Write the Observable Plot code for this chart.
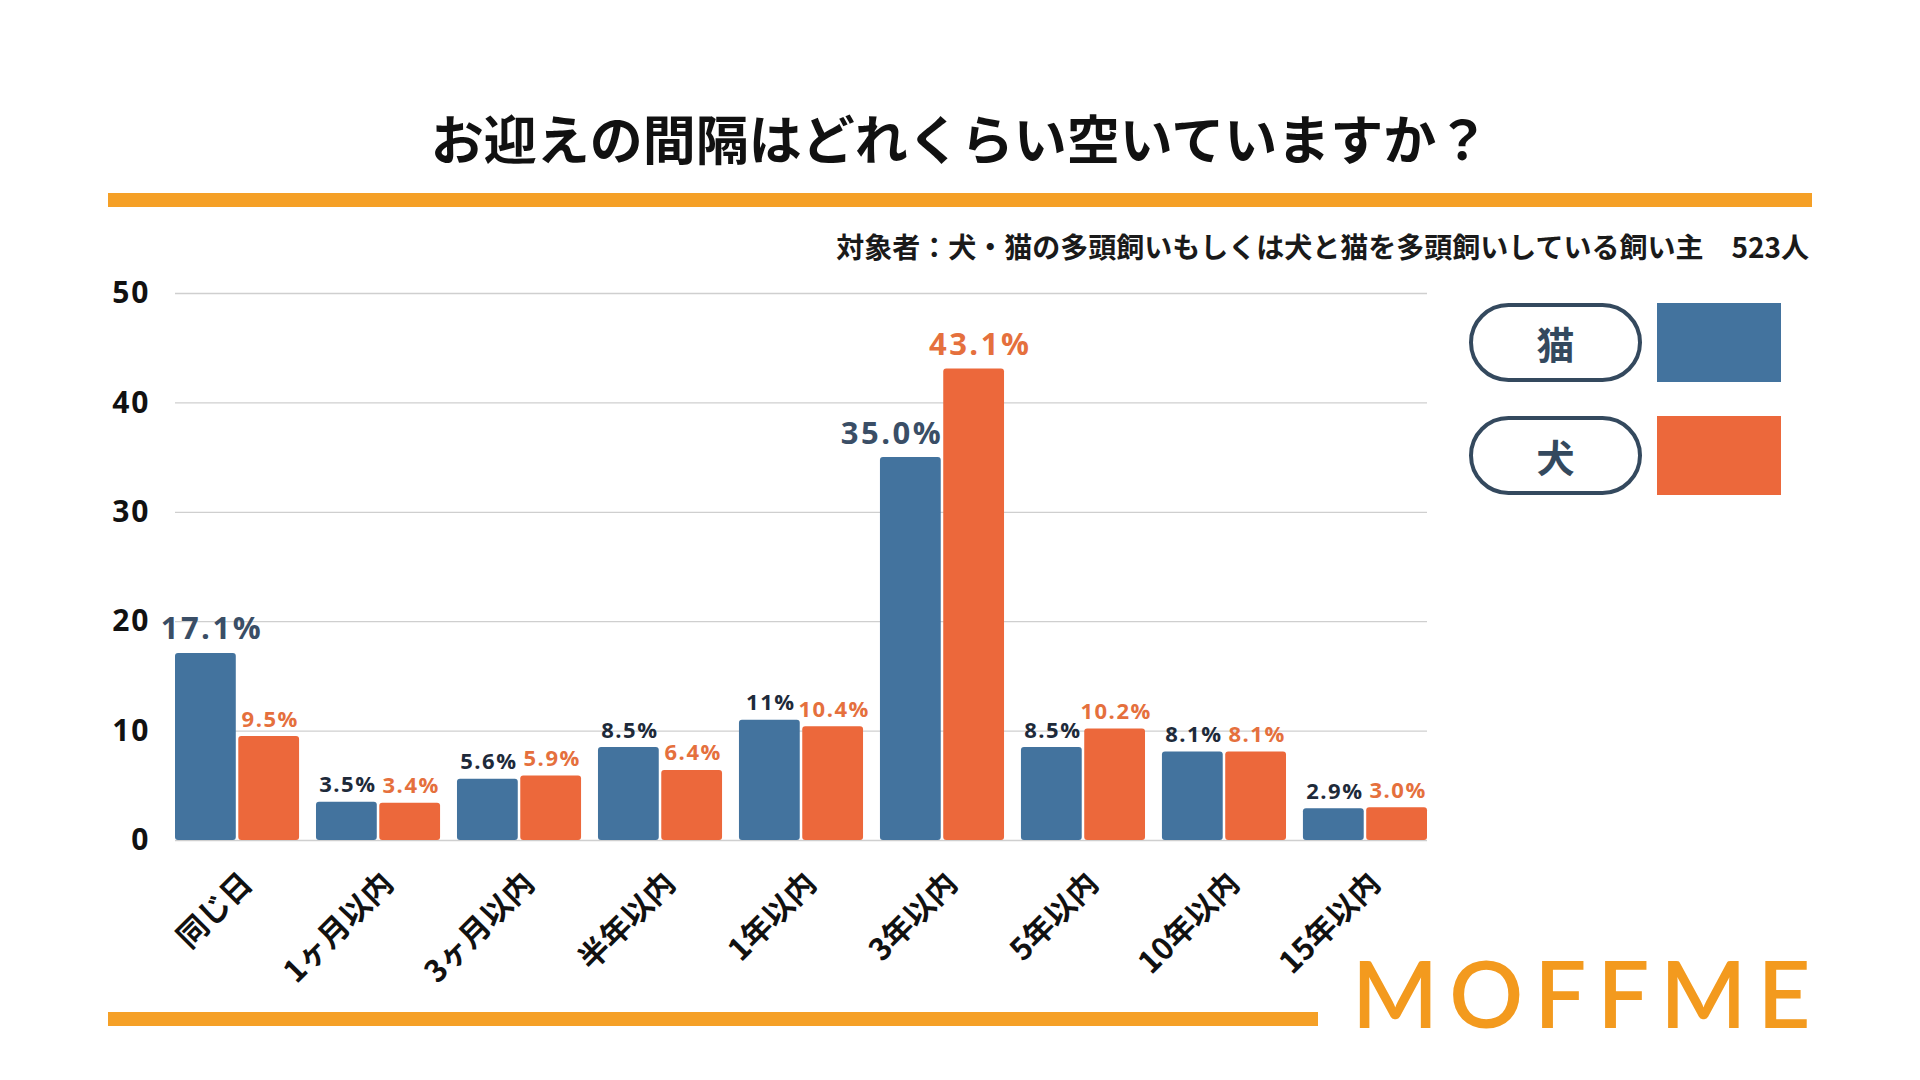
<!DOCTYPE html>
<html lang="ja">
<head>
<meta charset="utf-8">
<script src="https://cdn.jsdelivr.net/npm/d3@7"></script>
<script src="https://cdn.jsdelivr.net/npm/@observablehq/plot@0.6"></script>
<style>
  html, body { margin: 0; padding: 0; background: #ffffff; }
  #page { position: relative; width: 1920px; height: 1080px; background: #ffffff; overflow: hidden;
          font-family: "Noto Sans CJK JP", "Noto Sans", sans-serif; }
  .abs { position: absolute; }
  #title { left: 0; width: 1920px; top: 110px; height: 54px; display: flex; align-items: center; justify-content: center;
           font-size: 53px; font-weight: 700; color: #111111; line-height: 1; }
  .bar { background: #f5a027; height: 14px; }
  #subtitle { right: 111px; top: 232px; height: 28px; line-height: 28px; font-size: 28px; font-weight: 700; color: #1a1a1a; white-space: pre; }
  .pill { box-sizing: border-box; border: 4px solid #34495e; border-radius: 40px; width: 173px; height: 79px;
          display: flex; align-items: center; justify-content: center; font-size: 38px; font-weight: 700; color: #34495e; }
  .swatch { width: 124px; height: 79px; }
  #chart { left: 0; top: 250px; }
  #logo { left: 1352px; top: 938px; width: 520px; height: 110px; line-height: 110px; white-space: nowrap;
          font-family: Lato, "Open Sans", sans-serif; font-weight: 600; font-size: 92px; color: #f39a1e; letter-spacing: 11px; }
</style>
</head>
<body>
<div id="page">
  <div id="title" class="abs"></div>
  <div class="abs bar" style="left:108px; top:193px; width:1704px;"></div>
  <div id="subtitle" class="abs"></div>
  <div id="legend"></div>
  <div id="chart" class="abs"></div>
  <div class="abs bar" style="left:108px; top:1012px; width:1210px;"></div>
  <div id="logo" class="abs">MOFFME</div>
</div>
<script>
const titleText = "お迎えの間隔はどれくらい空いていますか？";
const subtitleText = "対象者：犬・猫の多頭飼いもしくは犬と猫を多頭飼いしている飼い主　523人";
const categories = ["同じ日", "1ヶ月以内", "3ヶ月以内", "半年以内", "1年以内", "3年以内", "5年以内", "10年以内", "15年以内"];
const catValues = [17.1, 3.5, 5.6, 8.5, 11, 35.0, 8.5, 8.1, 2.9];
const dogValues = [9.5, 3.4, 5.9, 6.4, 10.4, 43.1, 10.2, 8.1, 3.0];
const catLabels = ["17.1%", "3.5%", "5.6%", "8.5%", "11%", "35.0%", "8.5%", "8.1%", "2.9%"];
const dogLabels = ["9.5%", "3.4%", "5.9%", "6.4%", "10.4%", "43.1%", "10.2%", "8.1%", "3.0%"];
const seriesNames = ["猫", "犬"];
const seriesColors = ["#43739e", "#ec683b"];
const yTicks = [0, 10, 20, 30, 40, 50];

document.getElementById("title").textContent = titleText;
document.getElementById("subtitle").textContent = subtitleText;

// legend
const legend = document.getElementById("legend");
seriesNames.forEach((name, i) => {
  const top = 303 + i * 113;
  const pill = document.createElement("div");
  pill.className = "abs pill";
  pill.style.left = "1469px"; pill.style.top = top + "px";
  pill.textContent = name;
  legend.appendChild(pill);
  const sw = document.createElement("div");
  sw.className = "abs swatch";
  sw.style.left = "1657px"; sw.style.top = top + "px";
  sw.style.background = seriesColors[i];
  legend.appendChild(sw);
});

const cats = categories.map((c, i) => ({category: c, value: catValues[i], label: catLabels[i]}));
const dogs = categories.map((c, i) => ({category: c, value: dogValues[i], label: dogLabels[i]}));

const W = 1460, H = 780, mL = 175, mR = 33, mT = 43, mB = 190;
const padInner = 0.12, barGap = 2.5;
const plotW = W - mL - mR;
const bw = plotW / (categories.length - padInner) * (1 - padInner);
const inset = bw / 2 + barGap / 2;
const off = bw / 4 + barGap / 4;

const big = d => d.value >= 15;
const small = d => d.value < 15;
const numFont = "'Open Sans', 'Noto Sans', sans-serif";
const smallSize = 22, bigSize = 31, tickSize = 30, catSize = 30.5;

const chart = Plot.plot({
  width: W, height: H,
  marginLeft: mL, marginRight: mR, marginTop: mT, marginBottom: mB,
  style: {background: "transparent", overflow: "visible", color: "#111111", fontFamily: numFont},
  x: {type: "band", domain: categories, paddingInner: padInner, paddingOuter: 0, round: false, axis: null},
  y: {domain: [0, 50], label: null},
  marks: [
    Plot.gridY(yTicks, {stroke: "#cfcfcf", strokeOpacity: 1, strokeWidth: 1.3}),
    Plot.axisY({ticks: yTicks, label: null, tickSize: 0, tickPadding: 25, fontSize: tickSize, fontWeight: 700, fontFamily: numFont, tickFormat: d => String(d)}),
    Plot.barY(cats, {x: "category", y: "value", fill: seriesColors[0], insetRight: inset, rx: 3}),
    Plot.barY(dogs, {x: "category", y: "value", fill: seriesColors[1], insetLeft: inset, rx: 3}),
    Plot.text(cats.filter(small), {x: "category", y: "value", text: "label", dx: -off + 1, dy: -10, lineAnchor: "bottom",
      fontSize: smallSize, fontWeight: 700, fill: "#1e2a3a", fontFamily: numFont}),
    Plot.text(dogs.filter(small), {x: "category", y: "value", text: "label", dx: off + 1, dy: -10, lineAnchor: "bottom",
      fontSize: smallSize, fontWeight: 700, fill: "#e5703d", fontFamily: numFont}),
    Plot.text(cats.filter(d => big(d) && d.category !== categories[5]), {x: "category", y: "value", text: "label", dx: -off + 6, dy: -14, lineAnchor: "bottom",
      fontSize: bigSize, fontWeight: 700, fill: "#3a4e66", fontFamily: numFont}),
    Plot.text(cats.filter(d => big(d) && d.category === categories[5]), {x: "category", y: "value", text: "label", dx: -barGap / 2 + 2, dy: -14, lineAnchor: "bottom", textAnchor: "end",
      fontSize: bigSize, fontWeight: 700, fill: "#3a4e66", fontFamily: numFont}),
    Plot.text(dogs.filter(big), {x: "category", y: "value", text: "label", dx: off + 6, dy: -14, lineAnchor: "bottom",
      fontSize: bigSize, fontWeight: 700, fill: "#e5703d", fontFamily: numFont}),
    Plot.text(categories, {x: d => d, frameAnchor: "bottom", rotate: -45, textAnchor: "end", lineAnchor: "middle",
      dx: 10, dy: 38, fontSize: catSize, fontWeight: 700, fill: "#111111", fontFamily: "'Noto Sans CJK JP', sans-serif"})
  ]
});
// slightly wider letter spacing on numeric labels, like the reference typeface
d3.select(chart).selectAll(`g[font-size="${smallSize}"] text`).style("letter-spacing", "1.5px");
d3.select(chart).selectAll(`g[font-size="${bigSize}"] text`).style("letter-spacing", "2.5px");
d3.select(chart).selectAll(`g[font-size="${tickSize}"] text`).style("letter-spacing", "2px");
document.getElementById("chart").appendChild(chart);
</script>
</body>
</html>
